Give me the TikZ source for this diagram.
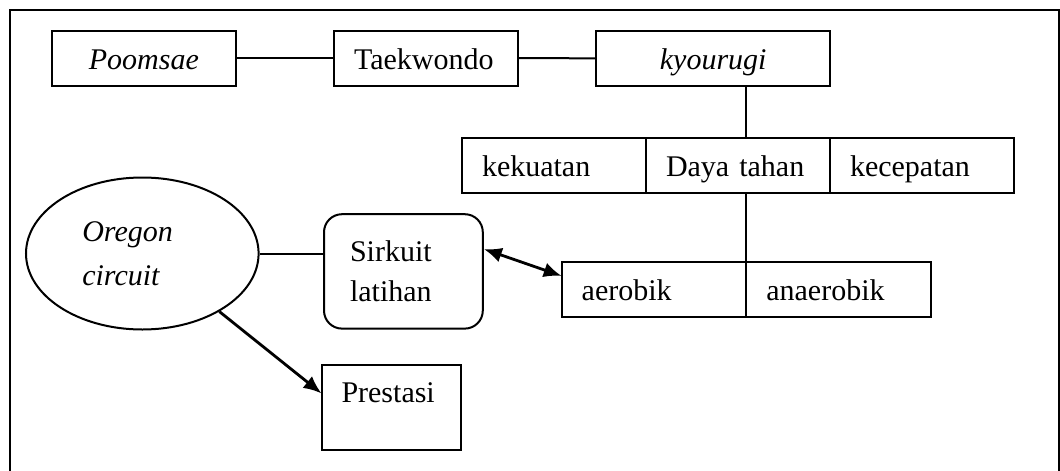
\documentclass[tikz,border=0pt]{standalone}
\usepackage{fontspec}
\setmainfont{Liberation Serif}
\usetikzlibrary{positioning,shapes.geometric,arrows.meta}

\begin{document}
\begin{tikzpicture}[x=0.5pt, y=-0.5pt, line width=1pt, font=\fontsize{15}{20}\selectfont,
  >={Latex[length=9pt, width=7.5pt]},
  main/.style = {draw, rectangle, outer sep=0pt, inner xsep=10pt, inner ysep=0pt, minimum height=27.5pt, text width=72pt, text height=14.5pt, text depth=3.5pt, align=left},
  oval/.style = {draw, ellipse, minimum width=116.3pt, minimum height=76pt, text width=60pt, align=left, font=\itshape\fontsize{15}{22}\selectfont},
  rbox/.style = {draw, rectangle, rounded corners=9pt, inner xsep=13pt, minimum height=57.2pt, text width=53.4pt, align=left},
  arr/.style = {line width=1.4pt}]
\useasboundingbox (0,0) rectangle (1060,471);
\draw (10,471) -- (10,10) -- (1058.5,10) -- (1058.5,471);
\node[main, align=center] (poomsae) at (143.9,58) {\textit{Poomsae}};
\node[main] (taekwondo) at (426,58) {Taekwondo};
\node[main, text width=97.25pt, align=center] (kyourugi) at (713.2,58.5) {\textit{kyourugi}};
\node[main] (kekuatan) at (554,165.4) {kekuatan};
\node[main] (daya) [right=0pt of kekuatan] {Daya tahan};
\node[main] (kecepatan) [right=0pt of daya] {kecepatan};
\node[main, text width=72.3pt] (aerobik) at (654,289) {aerobik};
\node[main, text width=72.3pt] (anaerobik) [right=0pt of aerobik] {anaerobik};
\node[oval] (oregon) at (142.3,253.5) {Oregon\\circuit};
\node[rbox] (sirkuit) at (403.4,271.4) {Sirkuit\\latihan};
\node[main, text width=49.5pt, minimum height=42.8pt, text height=10pt, text depth=15pt] (prestasi) at (391,407.4) {Prestasi};
\draw (poomsae) -- (taekwondo);
\draw (taekwondo) -- (kyourugi);
\draw (kyourugi.south -| aerobik.east) -- (daya.north -| aerobik.east);
\draw (daya.south -| aerobik.east) -- (aerobik.north east);
\draw (oregon.east) -- (oregon.east -| sirkuit.west);
\draw[arr, <->] ([yshift=11.2pt]sirkuit.east) -- ([yshift=6.5pt]aerobik.west);
\draw[arr, ->] (oregon.-37) -- ([yshift=7pt]prestasi.west);
\end{tikzpicture}
\end{document}
